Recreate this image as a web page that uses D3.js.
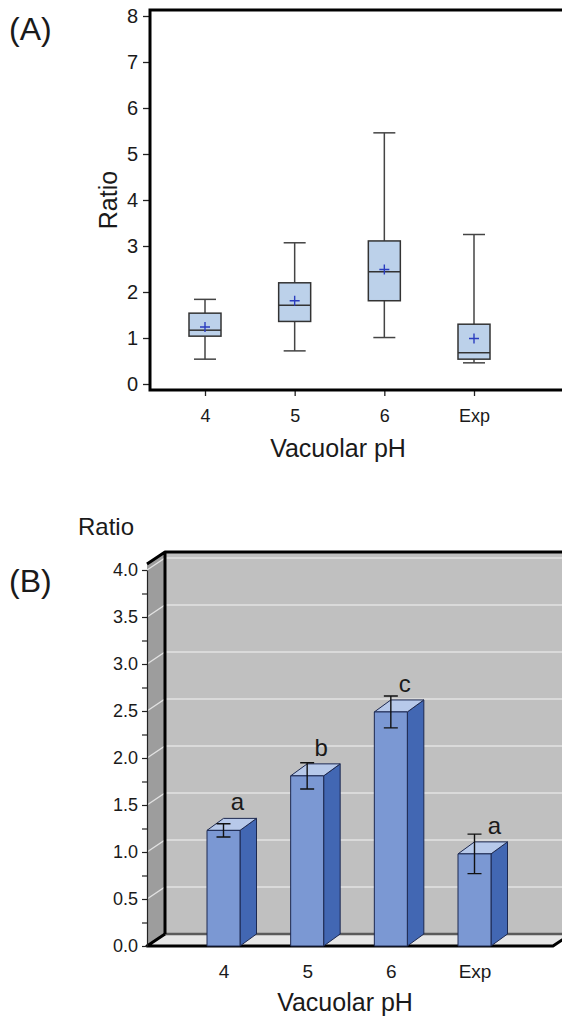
<!DOCTYPE html>
<html>
<head>
<meta charset="utf-8">
<script src="https://cdn.jsdelivr.net/npm/d3@7"></script>
<style>
  html, body { margin: 0; padding: 0; background: #fff; }
  svg { display: block; }
  text { font-family: "Liberation Sans", Arial, sans-serif; fill: #1a1a1a; }
</style>
</head>
<body>
<svg id="fig" width="562" height="1028"></svg>
<script>
// Categories shared by both panels
const categories = ["4", "5", "6", "Exp"];

// Panel A: box-plot statistics per vacuolar pH
const boxLow    = [0.54, 0.72, 1.01, 0.46];
const boxQ1     = [1.04, 1.36, 1.81, 0.54];
const boxMedian = [1.17, 1.71, 2.44, 0.68];
const boxQ3     = [1.54, 2.20, 3.11, 1.30];
const boxHigh   = [1.84, 3.07, 5.46, 3.25];
const boxMean   = [1.24, 1.81, 2.49, 0.99];
const ticksA    = [0, 1, 2, 3, 4, 5, 6, 7, 8];

// Panel B: mean ratio with standard error and significance groups
const barMean    = [1.23, 1.81, 2.49, 0.98];
const barErr     = [0.07, 0.14, 0.17, 0.21];
const barLetters = ["a", "b", "c", "a"];
const ticksB     = [0, 0.25, 0.5, 0.75, 1, 1.25, 1.5, 1.75, 2, 2.25, 2.5, 2.75, 3, 3.25, 3.5, 3.75, 4];

const FONT = "Liberation Sans, Arial, sans-serif";
const svg = d3.select("#fig");

/* ---------------- Panel A: box plot ---------------- */
const A = { left: 150, top: 10, bottom: 390, right: 575 };
const yA = d3.scaleLinear().domain([0, 8]).range([384, 16]);
const xA = d3.scalePoint().domain(categories).range([205, 474]);
const gA = svg.append("g");

svg.append("text").attr("x", 9).attr("y", 40)
  .style("font-size", "32px").text("(A)");

// y axis ticks and labels
const axA = gA.append("g").attr("transform", `translate(${A.left},0)`)
  .call(d3.axisLeft(yA).tickValues(ticksA).tickSize(7).tickPadding(5).tickFormat(d3.format("d")));
axA.select(".domain").remove();
axA.selectAll(".tick line").attr("stroke", "#222").attr("stroke-width", 1.3);
axA.selectAll(".tick text").style("font-size", "20px").style("font-family", FONT).attr("fill", "#1a1a1a");

// x axis ticks and labels
const axAx = gA.append("g").attr("transform", `translate(0,${A.bottom})`)
  .call(d3.axisBottom(xA).tickSize(6).tickPadding(13));
axAx.select(".domain").remove();
axAx.selectAll(".tick line").attr("stroke", "#222").attr("stroke-width", 1.3);
axAx.selectAll(".tick text").style("font-size", "18px").style("font-family", FONT).attr("fill", "#1a1a1a");

// frame
gA.append("path")
  .attr("d", `M${A.right},${A.top}H${A.left}V${A.bottom}H${A.right}`)
  .attr("fill", "none").attr("stroke", "#000").attr("stroke-width", 3);

// axis titles
gA.append("text").attr("x", 338).attr("y", 457).attr("text-anchor", "middle")
  .style("font-size", "25px").text("Vacuolar pH");
gA.append("text").attr("transform", "translate(117,200) rotate(-90)")
  .attr("text-anchor", "middle").style("font-size", "25px").text("Ratio");

// boxes
const boxHalf = 16, capHalf = 11;
categories.forEach((c, i) => {
  const cx = xA(c);
  const g = gA.append("g");
  // whiskers
  g.append("line").attr("x1", cx).attr("x2", cx).attr("y1", yA(boxHigh[i])).attr("y2", yA(boxQ3[i]))
    .attr("stroke", "#444").attr("stroke-width", 1.5);
  g.append("line").attr("x1", cx).attr("x2", cx).attr("y1", yA(boxQ1[i])).attr("y2", yA(boxLow[i]))
    .attr("stroke", "#444").attr("stroke-width", 1.5);
  [boxHigh[i], boxLow[i]].forEach(v => {
    g.append("line").attr("x1", cx - capHalf).attr("x2", cx + capHalf).attr("y1", yA(v)).attr("y2", yA(v))
      .attr("stroke", "#444").attr("stroke-width", 1.5);
  });
  // box
  g.append("rect").attr("x", cx - boxHalf).attr("width", boxHalf * 2)
    .attr("y", yA(boxQ3[i])).attr("height", yA(boxQ1[i]) - yA(boxQ3[i]))
    .attr("fill", "#bcd1ea").attr("stroke", "#333").attr("stroke-width", 1.5);
  // median
  g.append("line").attr("x1", cx - boxHalf).attr("x2", cx + boxHalf)
    .attr("y1", yA(boxMedian[i])).attr("y2", yA(boxMedian[i]))
    .attr("stroke", "#333").attr("stroke-width", 1.5);
  // mean marker
  const my = yA(boxMean[i]);
  g.append("path").attr("d", `M${cx - 5},${my}H${cx + 5}M${cx},${my - 5}V${my + 5}`)
    .attr("stroke", "#2b3dbf").attr("stroke-width", 1.4);
});

/* ---------------- Panel B: 3D bar chart ---------------- */
const yB = d3.scaleLinear().domain([0, 4]).range([946, 570]);
const xB = d3.scalePoint().domain(categories).range([223.5, 474.5]);
const gB = svg.append("g");
const dx = 18, dy = -12;            // depth offset of the walls
const bdx = 16.5, bdy = -12;        // depth offset of the bars
const fx = 147;                     // front-left edge of the side wall
const floorRight = 553;
const wallTop = yB(4) - 6;
const y0 = yB(0);

svg.append("text").attr("x", 9).attr("y", 592)
  .style("font-size", "32px").text("(B)");
svg.append("text").attr("x", 106).attr("y", 535).attr("text-anchor", "middle")
  .style("font-size", "24px").text("Ratio");

// back wall
gB.append("rect").attr("x", fx + dx).attr("y", wallTop + dy)
  .attr("width", 600).attr("height", (y0 + dy) - (wallTop + dy))
  .attr("fill", "#c0c0c0");
// side wall
gB.append("path")
  .attr("d", `M${fx},${y0}V${wallTop}L${fx + dx},${wallTop + dy}V${y0 + dy}Z`)
  .attr("fill", "#9d9d9d");
// floor
gB.append("path")
  .attr("d", `M${fx},${y0}H${floorRight}L${floorRight + dx},${y0 + dy}H${fx + dx}Z`)
  .attr("fill", "#e6e6e6");

// gridlines across side and back walls
gB.append("g").selectAll("path")
  .data(ticksB.filter(v => v > 0 && v % 0.5 === 0))
  .join("path")
  .attr("d", v => `M${fx},${yB(v)}L${fx + dx},${yB(v) + dy}H${600}`)
  .attr("fill", "none").attr("stroke", "#e2e2e2").attr("stroke-width", 1.3);

// wall and floor edges
gB.append("path").attr("d", `M${fx + dx},${y0 + dy}H${600}`)
  .attr("stroke", "#5a5a5a").attr("stroke-width", 2.5).attr("fill", "none");
gB.append("path")
  .attr("d", `M${fx},${wallTop}L${fx + dx},${wallTop + dy}H${600}M${fx + dx},${wallTop + dy}V${y0 + dy}`)
  .attr("stroke", "#000").attr("stroke-width", 3).attr("fill", "none").attr("stroke-linejoin", "round");
gB.append("path")
  .attr("d", `M${fx + dx},${y0 + dy}L${fx},${y0}H${floorRight}L${floorRight + dx},${y0 + dy}`)
  .attr("stroke", "#000").attr("stroke-width", 3).attr("fill", "none").attr("stroke-linejoin", "round");

// y axis along the front edge of the side wall
const axB = gB.append("g").attr("transform", `translate(${fx},0)`)
  .call(d3.axisLeft(yB).tickValues(ticksB).tickSize(5).tickSizeOuter(0).tickPadding(4)
    .tickFormat(v => (v % 0.5 === 0 ? d3.format(".1f")(v) : "")));
axB.select(".domain").attr("stroke", "#222").attr("stroke-width", 1.2);
axB.selectAll(".tick line").attr("stroke", "#222").attr("stroke-width", 1.2);
axB.selectAll(".tick text").style("font-size", "18px").style("font-family", FONT).attr("fill", "#1a1a1a");

// bars
const half = 16.5;
categories.forEach((c, i) => {
  const cx = xB(c);
  const x0 = cx - half, x1 = cx + half;
  const yt = yB(barMean[i]);
  const g = gB.append("g").attr("stroke", "#1c2850").attr("stroke-width", 1).attr("stroke-linejoin", "round");
  g.append("path")
    .attr("d", `M${x1},${yt}L${x1 + bdx},${yt + bdy}V${y0 + bdy}L${x1},${y0}Z`)
    .attr("fill", "#4267b3");
  g.append("path")
    .attr("d", `M${x0},${yt}L${x0 + bdx},${yt + bdy}H${x1 + bdx}L${x1},${yt}Z`)
    .attr("fill", "#b7c9ea");
  g.append("rect").attr("x", x0).attr("y", yt).attr("width", half * 2).attr("height", y0 - yt)
    .attr("fill", "#7b98d3");

  // error bar
  const eHi = yB(barMean[i] + barErr[i]), eLo = yB(barMean[i] - barErr[i]);
  gB.append("path")
    .attr("d", `M${cx},${eHi}V${eLo}M${cx - 7},${eHi}H${cx + 7}M${cx - 7},${eLo}H${cx + 7}`)
    .attr("stroke", "#111").attr("stroke-width", 1.4).attr("fill", "none");

  // significance letter
  gB.append("text").attr("x", cx + (i === 3 ? 20 : 14)).attr("y", yt + bdy - 8)
    .attr("text-anchor", "middle").style("font-size", "24px").text(barLetters[i]);
});

// x axis labels and title
const axBx = gB.append("g").attr("transform", `translate(0,${y0})`)
  .call(d3.axisBottom(xB).tickSize(0).tickPadding(19));
axBx.select(".domain").remove();
axBx.selectAll(".tick text").style("font-size", "19px").style("font-family", FONT).attr("fill", "#1a1a1a");
gB.append("text").attr("x", 345).attr("y", 1011).attr("text-anchor", "middle")
  .style("font-size", "25px").text("Vacuolar pH");
</script>
</body>
</html>
